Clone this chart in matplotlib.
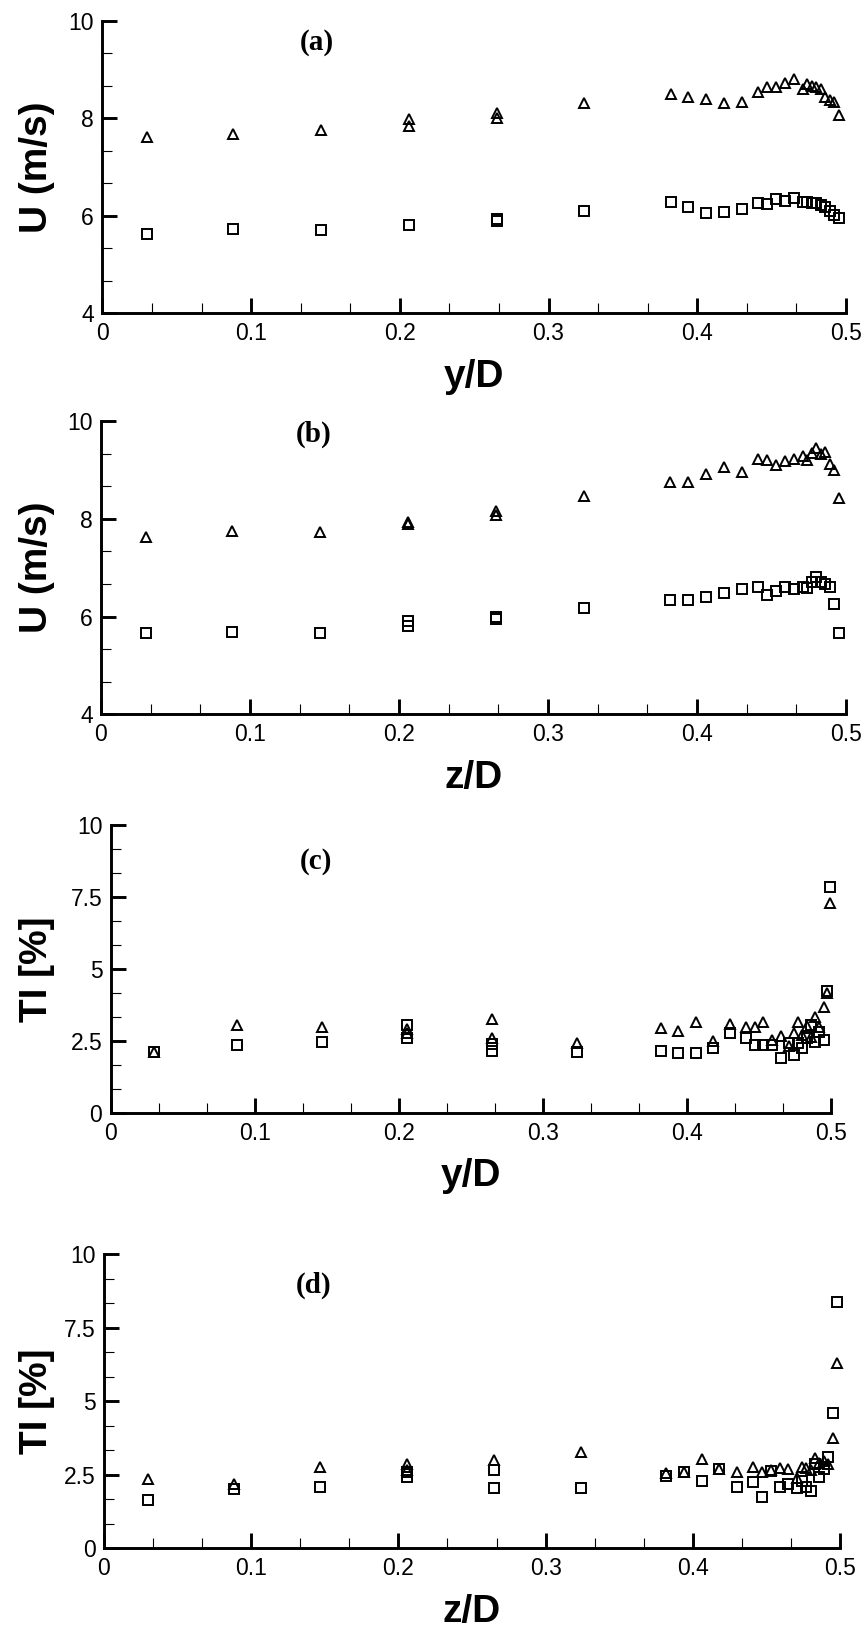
import matplotlib
matplotlib.use('Agg')
import matplotlib.pyplot as plt
from matplotlib.ticker import MultipleLocator, AutoMinorLocator, FuncFormatter

# measurement stations (y/D or z/D)
pos = [0.030, 0.088, 0.147, 0.206, 0.265, 0.324, 0.382, 0.394, 0.406, 0.418,
       0.430, 0.441, 0.447, 0.453, 0.459, 0.465, 0.471, 0.474, 0.477, 0.480,
       0.483, 0.486, 0.489, 0.492, 0.495]
pos_c = pos + [0.4975, 0.4995]
pos_d = pos[:-1] + [0.495, 0.498]

# (a) U vs y/D
a_tri = [7.62, 7.67, 7.75, 7.98, 8.11, 8.31, 8.50, 8.44, 8.40, 8.31,
         8.33, 8.53, 8.65, 8.65, 8.72, 8.80, 8.59, 8.70, 8.67, 8.64,
         8.60, 8.44, 8.38, 8.34, 8.07]
a_sq = [5.62, 5.72, 5.71, 5.81, 5.93, 6.09, 6.29, 6.17, 6.05, 6.07,
        6.13, 6.27, 6.24, 6.34, 6.31, 6.36, 6.29, 6.29, 6.27, 6.26,
        6.22, 6.19, 6.09, 6.02, 5.95]
a_tri_rep = [(0.206, 7.85), (0.265, 8.00)]
a_sq_rep = [(0.265, 5.90)]

# (b) U vs z/D
b_tri = [7.63, 7.76, 7.73, 7.93, 8.15, 8.47, 8.76, 8.76, 8.91, 9.05,
         8.95, 9.22, 9.20, 9.10, 9.18, 9.22, 9.28, 9.20, 9.35, 9.44,
         9.33, 9.37, 9.12, 9.00, 8.42]
b_sq = [5.67, 5.69, 5.67, 5.90, 6.00, 6.17, 6.33, 6.33, 6.41, 6.48,
        6.56, 6.61, 6.44, 6.53, 6.61, 6.56, 6.61, 6.58, 6.71, 6.82,
        6.71, 6.66, 6.61, 6.26, 5.66]
b_tri_rep = [(0.206, 7.90), (0.265, 8.08)]
b_sq_rep = [(0.206, 5.80), (0.265, 5.95)]

# (c) TI vs y/D
c_tri = [2.12, 3.06, 3.00, 2.92, 3.26, 2.45, 2.95, 2.87, 3.17, 2.52,
         3.09, 3.00, 3.00, 3.16, 2.54, 2.68, 2.33, 2.80, 3.16, 2.72,
         3.03, 2.66, 3.35, 3.00, 3.68, 4.18, 7.28]
c_sq = [2.12, 2.37, 2.46, 3.08, 2.40, 2.13, 2.17, 2.10, 2.08, 2.28,
        2.80, 2.60, 2.37, 2.37, 2.37, 1.91, 2.43, 2.02, 2.43, 2.28,
        2.60, 3.06, 2.48, 2.83, 2.55, 4.25, 7.84]
c_tri_rep = [(0.206, 2.78), (0.265, 2.60)]
c_sq_rep = [(0.206, 2.62), (0.265, 2.17)]

# (d) TI vs z/D
d_tri = [2.35, 2.19, 2.75, 2.87, 3.00, 3.28, 2.55, 2.60, 3.03, 2.70,
         2.58, 2.78, 2.58, 2.66, 2.72, 2.69, 2.40, 2.75, 2.72, 2.68,
         3.08, 2.90, 2.98, 2.88, 3.76, 6.31]
d_sq = [1.64, 2.02, 2.10, 2.42, 2.66, 2.06, 2.47, 2.60, 2.29, 2.70,
        2.10, 2.24, 1.73, 2.62, 2.08, 2.19, 2.04, 2.30, 2.10, 1.96,
        2.88, 2.44, 2.70, 3.12, 4.59, 8.37]
d_tri_rep = [(0.206, 2.65)]
d_sq_rep = [(0.206, 2.60), (0.265, 2.04)]

W, H = 862, 1628
fig = plt.figure(figsize=(W / 100, H / 100), dpi=100)

# axes boxes in pixels: left, right, top(y max), bottom(y min)
boxes = [(102.4, 846, 20.7, 313.3),
         (101, 846, 421, 714.4),
         (110.7, 831, 825, 1113.3),
         (104, 840, 1254.3, 1548.3)]

panels = [
    ('(a)', pos, a_tri, a_sq, a_tri_rep, a_sq_rep, 'y/D', 'U (m/s)', (4, 10), 2, (0.288, 0.925)),
    ('(b)', pos, b_tri, b_sq, b_tri_rep, b_sq_rep, 'z/D', 'U (m/s)', (4, 10), 2, (0.285, 0.955)),
    ('(c)', pos_c, c_tri, c_sq, c_tri_rep, c_sq_rep, 'y/D', 'TI [%]', (0, 10), 2.5, (0.285, 0.875)),
    ('(d)', pos_d, d_tri, d_sq, d_tri_rep, d_sq_rep, 'z/D', 'TI [%]', (0, 10), 2.5, (0.285, 0.895)),
]

fmt = FuncFormatter(lambda v, p: '%g' % round(v, 3))

for (l, r, t, b), (tag, x, tri, sq, tri_rep, sq_rep, xl, yl, ylim, ystep, tpos) in zip(boxes, panels):
    ax = fig.add_axes([l / W, 1 - b / H, (r - l) / W, (b - t) / H])
    mk = dict(linestyle='none', markerfacecolor='none', markeredgecolor='black',
              markeredgewidth=1.4, clip_on=False)
    ax.plot(x, tri, marker='^', markersize=7.6, **mk)
    ax.plot(x, sq, marker='s', markersize=6.8, **mk)
    if tri_rep:
        ax.plot([p[0] for p in tri_rep], [p[1] for p in tri_rep], marker='^', markersize=7.6, **mk)
    if sq_rep:
        ax.plot([p[0] for p in sq_rep], [p[1] for p in sq_rep], marker='s', markersize=6.8, **mk)

    ax.set_xlim(0, 0.5)
    ax.set_ylim(*ylim)
    ax.xaxis.set_major_locator(MultipleLocator(0.1))
    ax.xaxis.set_minor_locator(AutoMinorLocator(3))
    ax.yaxis.set_major_locator(MultipleLocator(ystep))
    ax.yaxis.set_minor_locator(AutoMinorLocator(3))
    ax.xaxis.set_major_formatter(fmt)
    ax.yaxis.set_major_formatter(fmt)

    for s in ['top', 'right']:
        ax.spines[s].set_visible(False)
    for s in ['left', 'bottom']:
        ax.spines[s].set_linewidth(2.1)
    ax.tick_params(which='major', direction='in', length=11, width=2.1, pad=6)
    ax.tick_params(which='minor', direction='in', length=7, width=0.8)
    for lab in ax.get_xticklabels() + ax.get_yticklabels():
        lab.set_fontfamily('Liberation Sans')
        lab.set_fontsize(16.5)

    ax.set_xlabel(xl, fontsize=28, fontweight='bold', family='Liberation Sans')
    ax.set_ylabel(yl, fontsize=28, fontweight='bold', family='Liberation Sans')
    ax.xaxis.set_label_coords(0.5, -0.155)
    ax.yaxis.set_label_coords((55 - l) / (r - l), 0.5)

    ax.text(tpos[0], tpos[1], tag, transform=ax.transAxes, ha='center', va='center',
            fontsize=21, fontweight='bold', family='Liberation Serif')

fig.savefig('out.png', dpi=100)
